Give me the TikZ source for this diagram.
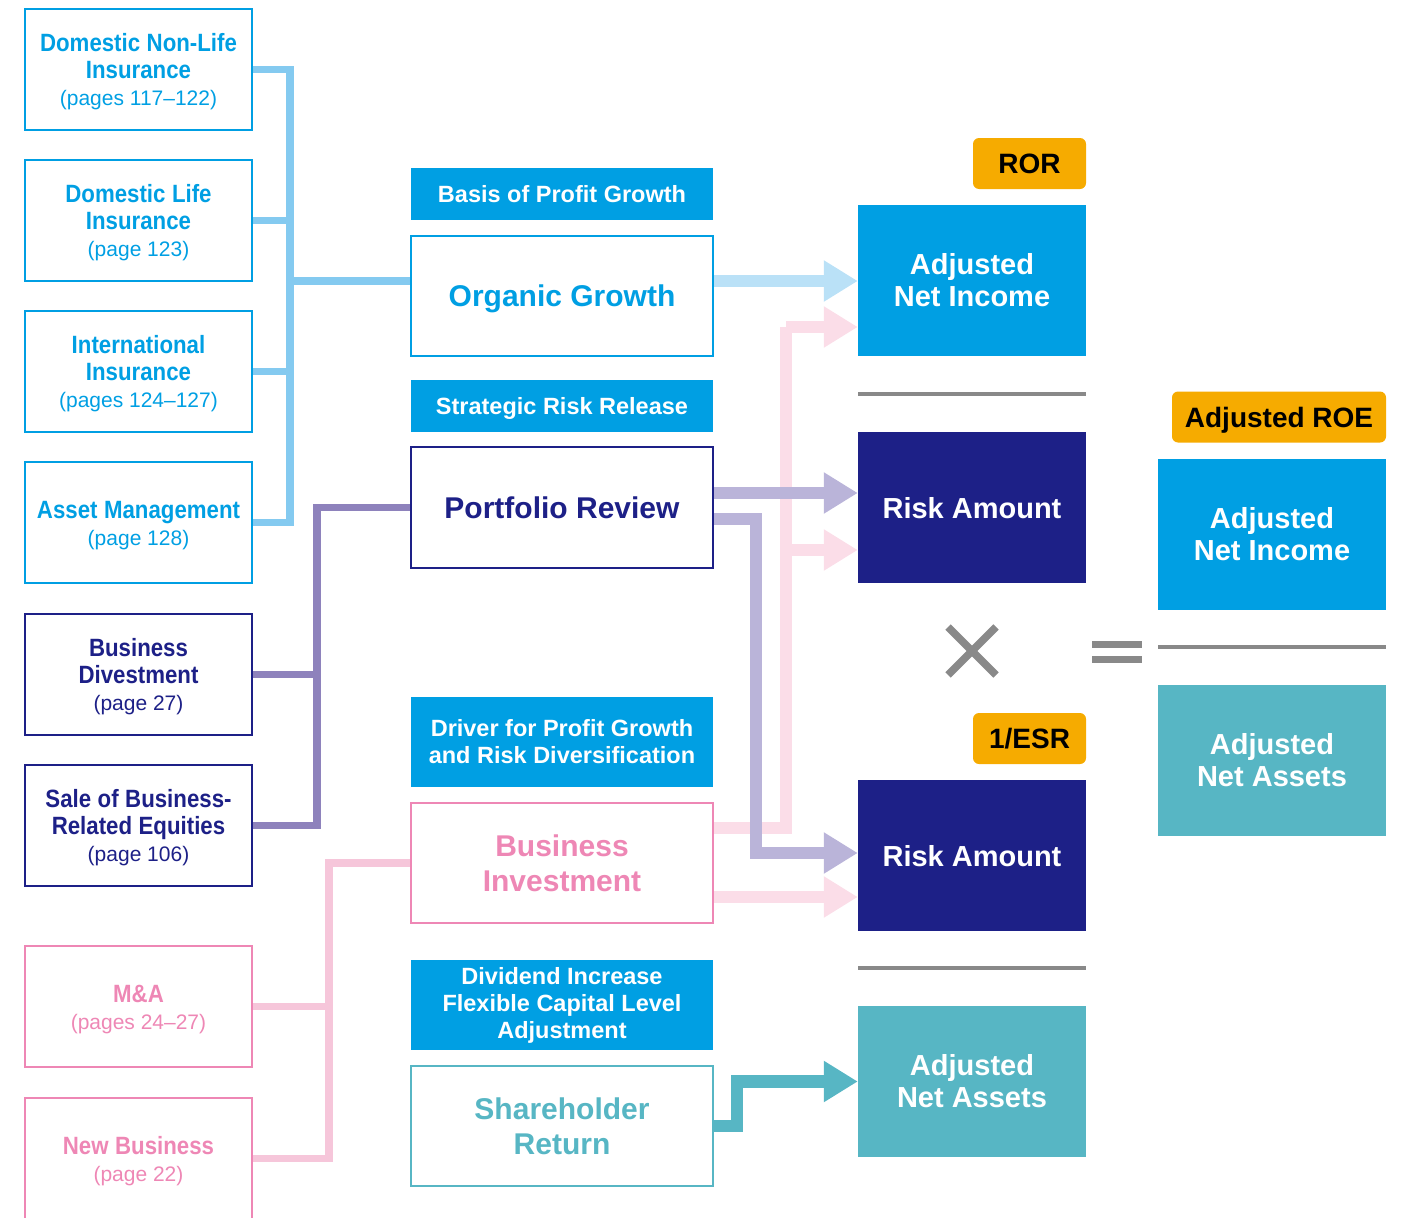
\documentclass[tikz,border=0pt]{standalone}
\usepackage{fontspec}
\setmainfont{Liberation Sans}
\newfontfamily\condfont[FakeStretch=0.89]{Liberation Sans}
\usetikzlibrary{arrows.meta}

\definecolor{cblue}{HTML}{009FE3}
\definecolor{cnavy}{HTML}{1D2087}
\definecolor{cteal}{HTML}{57B6C4}
\definecolor{cpink}{HTML}{EE87B5}
\definecolor{corange}{HTML}{F6AB00}
\definecolor{cgray}{HTML}{898989}
\definecolor{lnblue}{HTML}{84CAF0}
\definecolor{lnpurple}{HTML}{8E82BC}
\definecolor{lnpink}{HTML}{F6C6DA}
\definecolor{arblue}{HTML}{BAE1F7}
\definecolor{arpurple}{HTML}{BAB4D9}
\definecolor{arpink}{HTML}{FBDDE8}

% label for the business boxes on the left: condensed title lines
% (separated by \par) followed by the page reference; the strut on the
% first line lowers the block a little inside its box
\newcommand{\bizlabel}[2]{{\condfont\bfseries\fontsize{25}{26.5}\selectfont\spaceskip=6.5pt\relax\rule{0pt}{23pt}#1\par}{\fontsize{21}{27.5}\selectfont\spaceskip=5.8pt\relax #2\par}}

\tikzset{
  bizbox/.style={draw=#1, text=#1, line width=2.5pt, minimum width=227pt,
    minimum height=121pt, inner sep=0pt, align=center, text width=227pt},
  midbox/.style={draw=#1, text=#1, fill=white, line width=2.5pt,
    minimum width=302pt, minimum height=120pt, inner sep=0pt, align=center,
    font=\fontsize{30}{35}\selectfont\bfseries},
  header/.style={fill=cblue, text=white, minimum width=302pt,
    minimum height=#1, inner sep=0pt, align=center,
    font=\fontsize{23.5}{27}\selectfont\bfseries},
  result/.style={fill=#1, text=white, minimum width=228pt,
    minimum height=151pt, inner sep=0pt, align=center,
    font=\fontsize{29}{32}\selectfont\bfseries},
  badge/.style={fill=corange, text=black, rounded corners=6pt,
    minimum width=#1, minimum height=51pt, inner sep=0pt, text depth=0pt,
    font=\fontsize{28}{30}\selectfont\bfseries},
  oneline/.style={text depth=0pt},
  feeder/.style={draw=#1, line width=7.5pt, line join=miter},
  fat/.style={draw=#1, line width=12.5pt, line join=miter,
    -{Triangle[length=34pt,width=39pt]}},
  fatline/.style={draw=#1, line width=12.5pt, line join=miter},
  ruleline/.style={draw=cgray, line width=4.5pt},
}

\begin{document}
\begin{tikzpicture}[x=1pt,y=-1pt]
\useasboundingbox (0,0) rectangle (1401,1218);

% ---------- business segments ----------
\node[bizbox=cblue] (b1) at (138.5,69.5) {\bizlabel{Domestic Non-Life\par Insurance}{(pages 117–122)}};
\node[bizbox=cblue] (b2) at (138.5,220.5) {\bizlabel{Domestic Life\par Insurance}{(page 123)}};
\node[bizbox=cblue] (b3) at (138.5,371.5) {\bizlabel{International\par Insurance}{(pages 124–127)}};
\node[bizbox=cblue] (b4) at (138.5,522.5) {\bizlabel{Asset Management}{(page 128)}};
\node[bizbox=cnavy] (b5) at (138.5,674.5) {\bizlabel{Business\par Divestment}{(page 27)}};
\node[bizbox=cnavy] (b6) at (138.5,825.5) {\bizlabel{Sale of Business-\par Related Equities}{(page 106)}};
\node[bizbox=cpink] (b7) at (138.5,1006.5) {\bizlabel{M\&A}{(pages 24–27)}};
\node[bizbox=cpink] (b8) at (138.5,1158.5) {\bizlabel{New Business}{(page 22)}};

% ---------- strategies ----------
\node[header=52pt, oneline] (h1) at (562,194) {Basis of Profit Growth};
\node[midbox=cblue, oneline] (og) at (562,296) {Organic Growth};
\node[header=52pt, oneline] (h2) at (562,406) {Strategic Risk Release};
\node[midbox=cnavy, minimum height=121pt, oneline] (pr) at (562,507.5) {Portfolio Review};
\node[header=90pt] (h3) at (562,742) {Driver for Profit Growth\\and Risk Diversification};
\node[midbox=cpink] (bi) at (562,863) {Business\\Investment};
\node[header=90pt] (h4) at (562,1005) {Dividend Increase\\Flexible Capital Level\\Adjustment};
\node[midbox=cteal] (sr) at (562,1126) {Shareholder\\Return};

% ---------- ROR x 1/ESR ----------
\node[badge=113pt] (ror) at (1029.5,163.5) {ROR};
\node[result=cblue] (ani) at (972,280.5) {Adjusted\\Net Income};
\node[result=cnavy, oneline] (ra1) at (972,507.5) {Risk Amount};
\node[badge=113pt] (esr) at (1029.5,738.5) {1/ESR};
\node[result=cnavy, oneline] (ra2) at (972,855.5) {Risk Amount};
\node[result=cteal] (ana) at (972,1081.5) {Adjusted\\Net Assets};

\draw[ruleline] (858,394) -- (1086,394);
\draw[ruleline] (858,968) -- (1086,968);

% multiplication sign
\draw[cgray, line width=7.5pt] (948,627) -- (996,675);
\draw[cgray, line width=7.5pt] (948,675) -- (996,627);

% equals sign
\fill[cgray] (1092,641) rectangle (1142,648);
\fill[cgray] (1092,656) rectangle (1142,663);

% ---------- Adjusted ROE ----------
\node[badge=214pt] (roe) at (1279,417) {Adjusted ROE};
\node[result=cblue] (ani2) at (1272,534.5) {Adjusted\\Net Income};
\node[result=cteal] (ana2) at (1272,760.5) {Adjusted\\Net Assets};
\draw[ruleline] (1158,647) -- (1386,647);

% ---------- feeders from the segments ----------
\coordinate (bv) at (290,0);
\coordinate (pv) at (317,0);
\coordinate (kv) at (329,0);
\coordinate (ogin) at ([yshift=15pt]og.west);

\draw[feeder=lnblue] (b1.east) -- (b1.east -| bv) -- (bv |- b4.east) -- (b4.east);
\draw[feeder=lnblue] (b2.east) -- (b2.east -| bv);
\draw[feeder=lnblue] (b3.east) -- (b3.east -| bv);
\draw[feeder=lnblue] (ogin -| bv) -- (ogin);

\draw[feeder=lnpurple] (pr.west) -- (pr.west -| pv) -- (pv |- b6.east) -- (b6.east);
\draw[feeder=lnpurple] (b5.east) -- (b5.east -| pv);

\draw[feeder=lnpink] (bi.west) -- (bi.west -| kv) -- (kv |- b8.east) -- (b8.east);
\draw[feeder=lnpink] (b7.east) -- (b7.east -| kv);

% ---------- arrows into ROR / 1/ESR ----------
\coordinate (kx) at (786,0);
\coordinate (bio) at ([yshift=35pt]bi.east);
\coordinate (ania) at ([yshift=-46.5pt]ani.west);
\coordinate (ra1b) at ([yshift=-42.5pt]ra1.west);
\draw[fatline=arpink] (bio) -- (bio -| kx) -- (kx |- ania);
\draw[fat=arpink] (kx |- ania) -- (ania);
\draw[fat=arpink] (kx |- ra1b) -- (ra1b);
\coordinate (bib) at ([yshift=-34pt]bi.east);
\draw[fat=arpink] (bib) -- (bib -| ra2.west);

\coordinate (ogo) at ([yshift=15pt]og.east);
\draw[fat=arblue] (ogo) -- (ogo -| ani.west);

\coordinate (px) at (756,0);
\coordinate (pra) at ([yshift=14.5pt]pr.east);
\coordinate (prb) at ([yshift=-11.5pt]pr.east);
\coordinate (ra2a) at ([yshift=2.5pt]ra2.west);
\draw[fat=arpurple] (pra) -- (pra -| ra1.west);
\draw[fat=arpurple] (prb) -- (prb -| px) -- (px |- ra2a) -- (ra2a);

\coordinate (tx) at (737,0);
\draw[fat=cteal] (sr.east) -- (sr.east -| tx) -- (tx |- ana.west) -- (ana.west);
\end{tikzpicture}
\end{document}
